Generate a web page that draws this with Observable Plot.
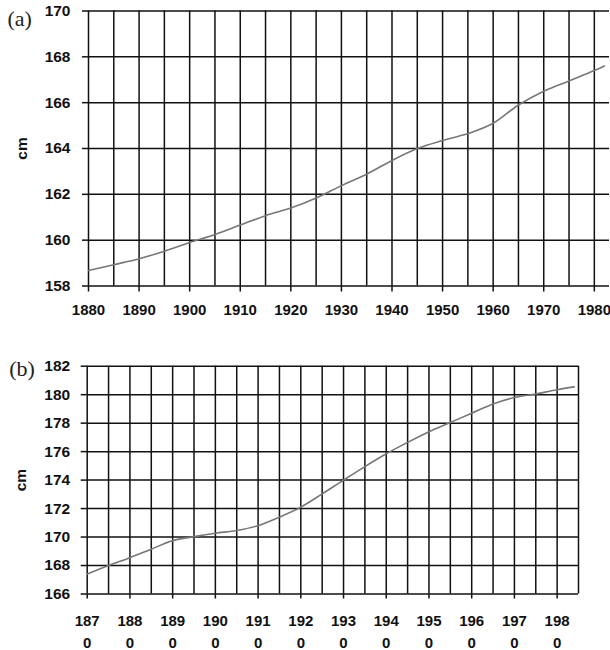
<!DOCTYPE html>
<html><head><meta charset="utf-8">
<script src="https://cdn.jsdelivr.net/npm/d3@7"></script>
<script src="https://cdn.jsdelivr.net/npm/@observablehq/plot@0.6"></script>
<style>
body{margin:0;background:#fff}
#chart{position:relative;width:610px;height:650px;background:#fff}
#chart svg{position:absolute;left:0;display:block}
#chart svg g[aria-label="y-axis tick label"]{font-size:15.5px !important;font-weight:bold}
#chart svg g[aria-label="x-axis tick label"]{font-size:15px !important;font-weight:bold}
#chart svg g[aria-label="y-axis label"]{font-size:15.5px !important;font-weight:bold}
#chart svg g[aria-label="text"]{font-size:22px !important;font-weight:normal}
</style>
</head><body><div id="chart"></div>
<script>
// Panel (a)
const yearsA   = [1880, 1885, 1890, 1895, 1900, 1905, 1910, 1915, 1920, 1925, 1930, 1935, 1940, 1945, 1950, 1955, 1960, 1965, 1970, 1975, 1980, 1982];
const heightsA = [158.68, 158.93, 159.19, 159.52, 159.9, 160.25, 160.66, 161.07, 161.4, 161.84, 162.38, 162.88, 163.48, 164.0, 164.35, 164.65, 165.1, 165.9, 166.5, 166.95, 167.4, 167.6];
const xTicksA  = [1880, 1890, 1900, 1910, 1920, 1930, 1940, 1950, 1960, 1970, 1980];
const gridXA   = [1880, 1885, 1890, 1895, 1900, 1905, 1910, 1915, 1920, 1925, 1930, 1935, 1940, 1945, 1950, 1955, 1960, 1965, 1970, 1975, 1980];
const yTicksA  = [158, 160, 162, 164, 166, 168, 170];

// Panel (b)
const yearsB   = [1870, 1875, 1880, 1885, 1890, 1895, 1900, 1905, 1910, 1915, 1920, 1925, 1930, 1935, 1940, 1945, 1950, 1955, 1960, 1965, 1970, 1975, 1980, 1984];
const heightsB = [167.4, 168.0, 168.55, 169.15, 169.75, 170.03, 170.27, 170.46, 170.8, 171.4, 172.1, 173.03, 174.0, 174.95, 175.85, 176.65, 177.4, 178.05, 178.7, 179.35, 179.8, 180.05, 180.35, 180.55];
const xTicksB  = [1870, 1880, 1890, 1900, 1910, 1920, 1930, 1940, 1950, 1960, 1970, 1980];
const xLabelsB = ["187\n0", "188\n0", "189\n0", "190\n0", "191\n0", "192\n0", "193\n0", "194\n0", "195\n0", "196\n0", "197\n0", "198\n0"];
const gridXB   = [1870, 1875, 1880, 1885, 1890, 1895, 1900, 1905, 1910, 1915, 1920, 1925, 1930, 1935, 1940, 1945, 1950, 1955, 1960, 1965, 1970, 1975, 1980, 1985];
const yTicksB  = [166, 168, 170, 172, 174, 176, 178, 180, 182];

const gridStroke = "#111";
const baseStyle = {fontFamily: "Liberation Sans, Arial, sans-serif", fontSize: "15px", fontWeight: "bold", color: "#111", background: "transparent"};

const chartA = Plot.plot({
  width: 610, height: 330,
  marginTop: 10.5, marginBottom: 44.5, marginLeft: 88, marginRight: 1,
  style: baseStyle,
  x: {domain: [1880, 1983]},
  y: {domain: [158, 170]},
  marks: [
    Plot.ruleY(yTicksA, {x1: 1880, x2: 1983, stroke: gridStroke, strokeWidth: 1.5}),
    Plot.ruleX(gridXA, {y1: 158, y2: 170, stroke: gridStroke, strokeWidth: 1.5}),
    Plot.axisX(xTicksA, {tickSize: 6, tickPadding: 12, strokeWidth: 1.5, tickFormat: d => String(d), label: null}),
    Plot.axisY(yTicksA, {tickSize: 6, tickPadding: 12, strokeWidth: 1.5, label: "cm", labelAnchor: "center", labelArrow: "none", labelOffset: 73}),
    Plot.line(heightsA, {x: (d, i) => yearsA[i], y: d => d, stroke: "#777", strokeWidth: 1.6, curve: "monotone-x"}),
    Plot.text(["(a)"], {frameAnchor: "top-left", dx: -81, dy: -1, textAnchor: "start", fontFamily: "Liberation Serif, Times New Roman, serif", fontWeight: "normal", fill: "#222"})
  ]
});
chartA.style.top = "0px";

const chartB = Plot.plot({
  width: 610, height: 320,
  marginTop: 35.7, marginBottom: 56.5, marginLeft: 86.7, marginRight: 32,
  style: baseStyle,
  x: {domain: [1870, 1985]},
  y: {domain: [166, 182]},
  marks: [
    Plot.ruleY(yTicksB, {x1: 1870, x2: 1985, stroke: gridStroke, strokeWidth: 1.5}),
    Plot.ruleX(gridXB, {y1: 166, y2: 182, stroke: gridStroke, strokeWidth: 1.5}),
    Plot.axisX(xTicksB, {tickSize: 5, tickPadding: 11, strokeWidth: 1.5, lineHeight: 1.5, tickFormat: (d) => xLabelsB[xTicksB.indexOf(d)], label: null}),
    Plot.axisY(yTicksB, {tickSize: 6, tickPadding: 11, strokeWidth: 1.5, label: "cm", labelAnchor: "center", labelArrow: "none", labelOffset: 72}),
    Plot.line(heightsB, {x: (d, i) => yearsB[i], y: d => d, stroke: "#777", strokeWidth: 1.6, curve: "monotone-x"}),
    Plot.text(["(b)"], {frameAnchor: "top-left", dx: -78, dy: -6, textAnchor: "start", fontFamily: "Liberation Serif, Times New Roman, serif", fontWeight: "normal", fill: "#222"})
  ]
});
chartB.style.top = "330px";

const root = document.getElementById("chart");
root.appendChild(chartA);
root.appendChild(chartB);
</script>
</body></html>
